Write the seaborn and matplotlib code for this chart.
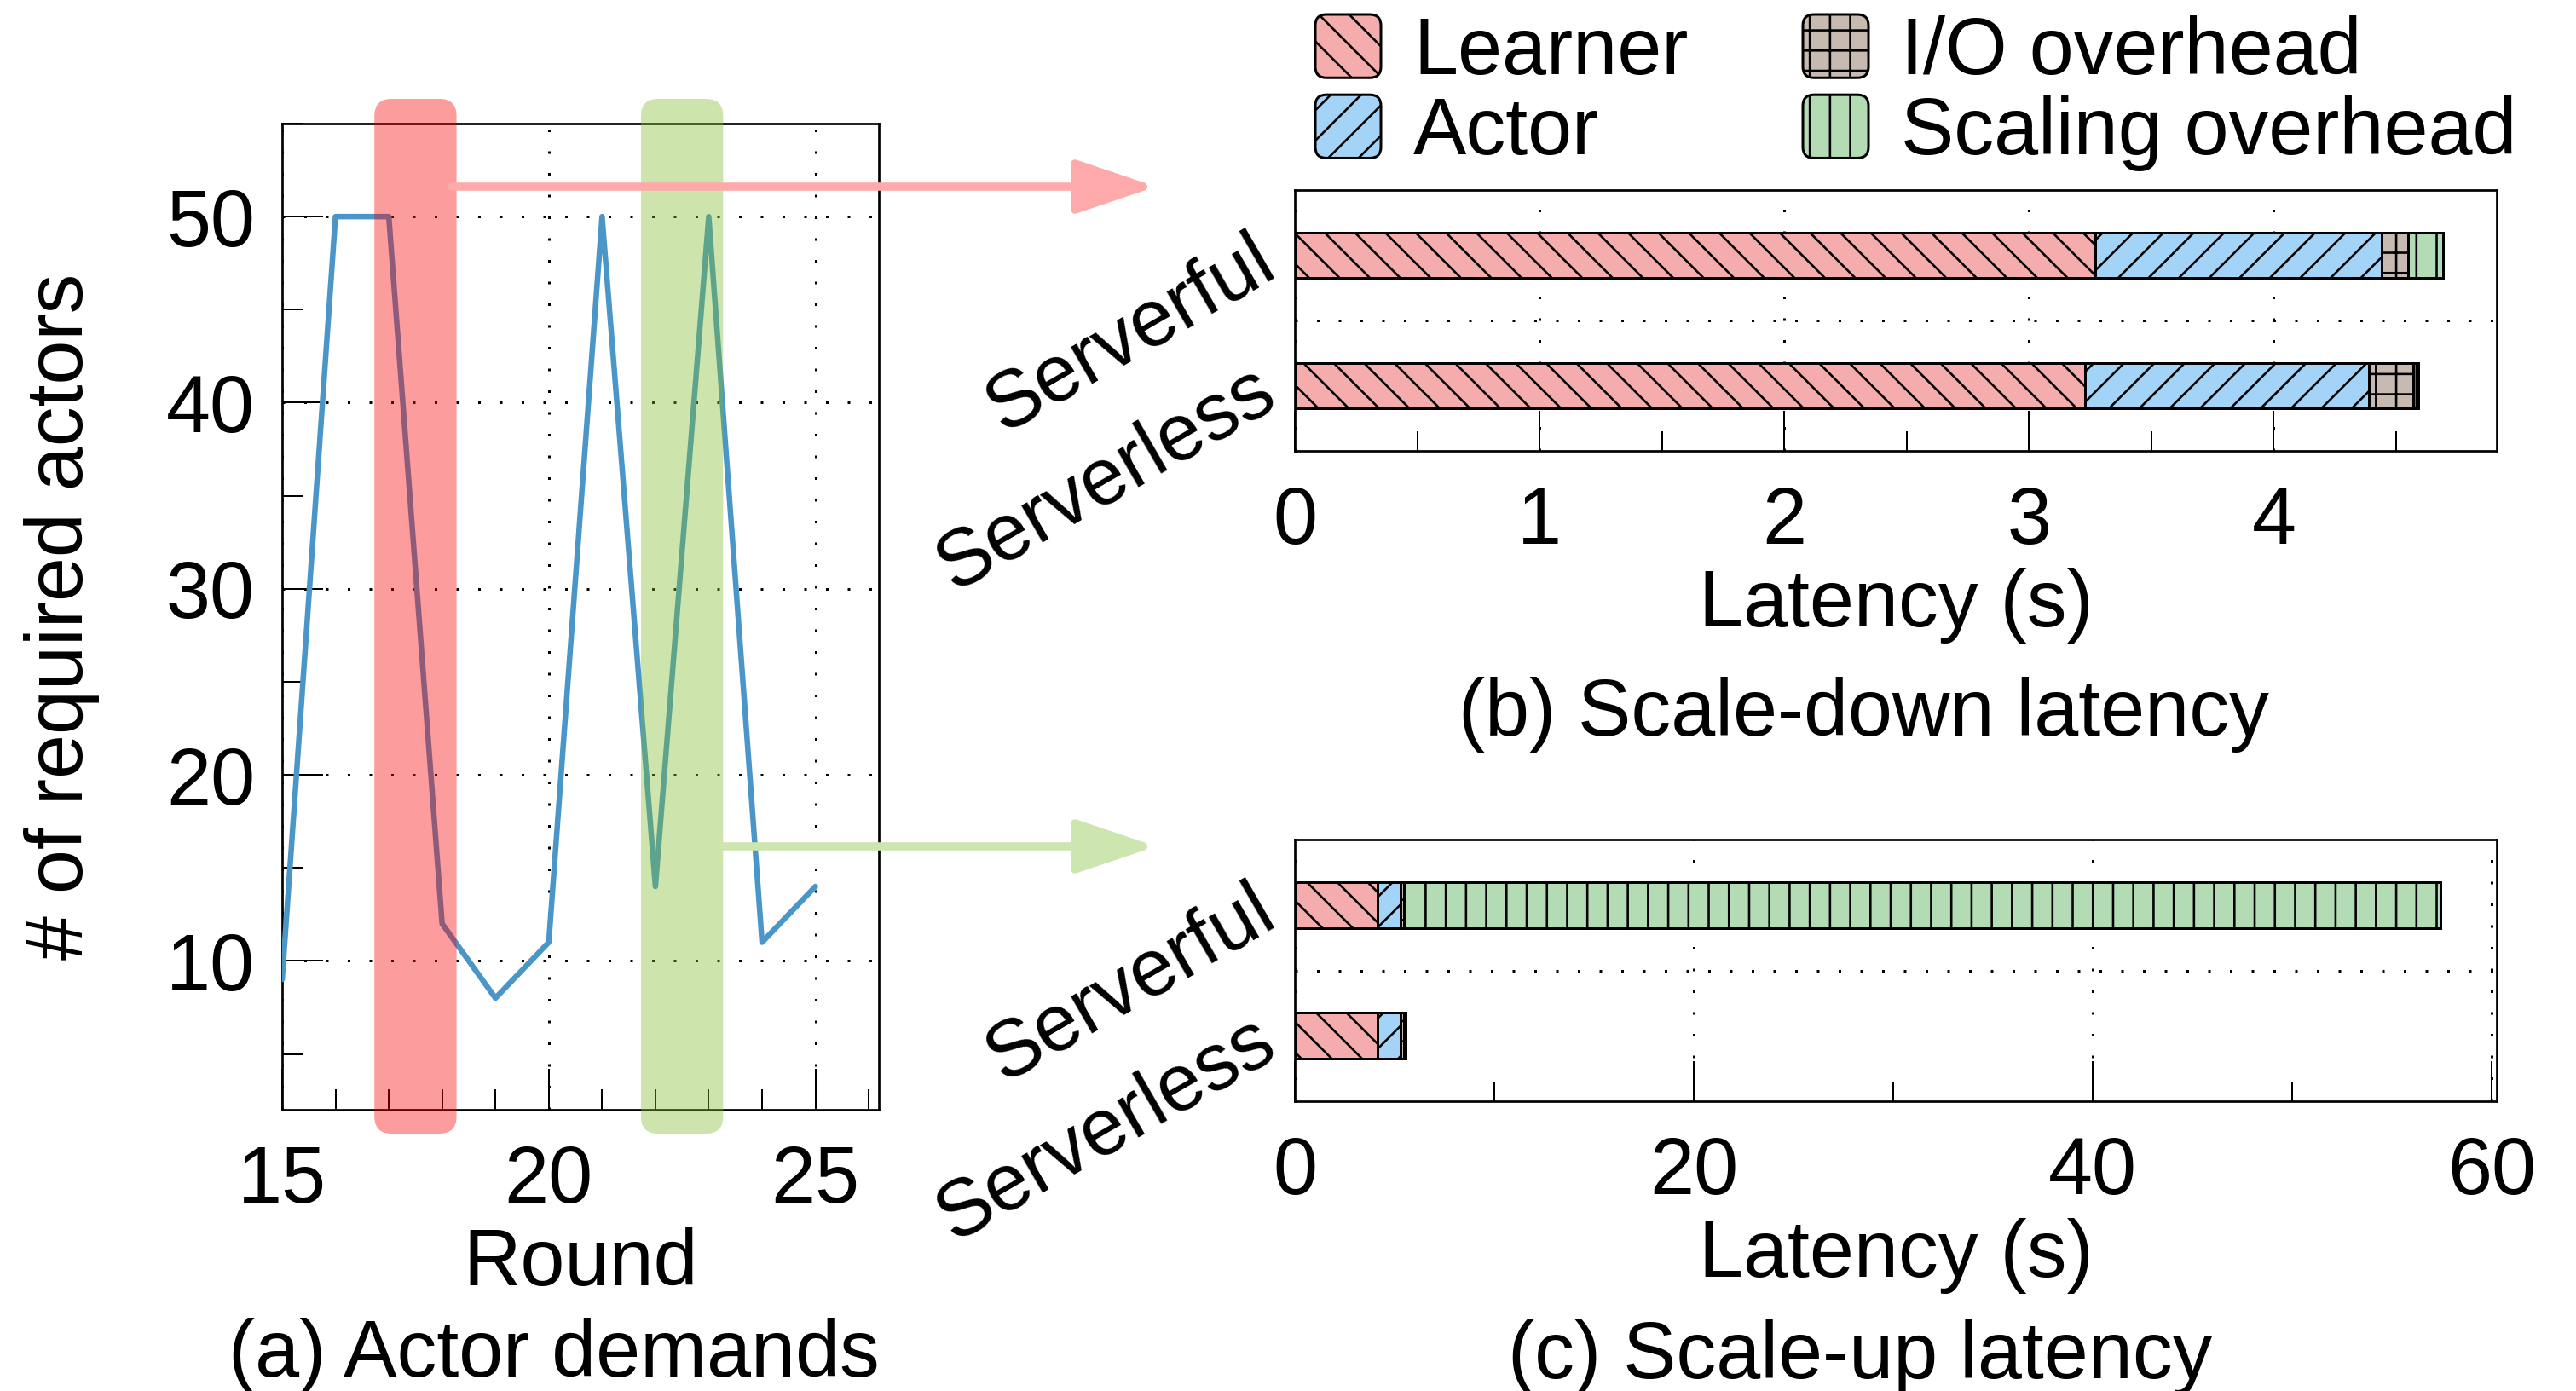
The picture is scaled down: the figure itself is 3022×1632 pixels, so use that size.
import numpy as np
import pandas as pd
import matplotlib
matplotlib.use("Agg")
import matplotlib.pyplot as plt
import seaborn as sns
from matplotlib.patches import FancyBboxPatch, FancyArrowPatch, Patch, ArrowStyle
from matplotlib.legend_handler import HandlerPatch
from matplotlib.ticker import MultipleLocator, FixedLocator

# ---------------- data ----------------
rounds = [15, 16, 17, 18, 19, 20, 21, 22, 23, 24, 25]
required_actors = [9, 50, 50, 12, 8, 11, 50, 14, 50, 11, 14]

systems = ["Serverful", "Serverless"]
components = ["Learner", "Actor", "I/O overhead", "Scaling overhead"]

# scale-down latency (s)
down_learner = [3.27, 3.23]
down_actor = [1.17, 1.16]
down_io = [0.11, 0.18]
down_scaling = [0.14, 0.02]

# scale-up latency (s)
up_learner = [4.15, 4.15]
up_actor = [1.17, 1.17]
up_io = [0.13, 0.17]
up_scaling = [51.99, 0.07]

# highlighted round windows (scale-down, scale-up)
scale_down_rounds = (17, 18)
scale_up_rounds = (22, 23)

# ---------------- style ----------------
W, H, DPI = 3022, 1632, 427


def P(px):
    """pixels -> points"""
    return px * 72.0 / DPI


def box(l, t, r, b):
    return [l / W, 1 - b / H, (r - l) / W, (b - t) / H]


sns.set_theme(style="white")
plt.rcParams["font.family"] = ["Liberation Sans", "DejaVu Sans"]
plt.rcParams["hatch.linewidth"] = P(2.6)
plt.rcParams["hatch.color"] = "black"
FS = P(93.5)

COLORS = ["#F4ACAC", "#A3D4F8", "#C9BAB1", "#B4DCB4"]
HATCHES = ["\\\\\\\\", "////", "+++", "|||"]
LINE_BLUE = "#4A96C8"
DOT = (0, (1, 7.5))

fig = plt.figure(figsize=(W / DPI, H / DPI), dpi=DPI)
fig.patch.set_facecolor("white")


def style_axes(ax):
    for s in ax.spines.values():
        s.set_visible(True)
        s.set_color("black")
        s.set_linewidth(P(2.7))
    ax.set_facecolor("white")


# ---------------- (a) actor demands ----------------
ax_a = fig.add_axes(box(331, 145, 1031, 1302))
sns.lineplot(x=rounds, y=required_actors, ax=ax_a, color=LINE_BLUE,
             linewidth=P(6.5), zorder=3)
ax_a.set_xlim(15, 26.19)
ax_a.xaxis.set_major_locator(MultipleLocator(5))
ax_a.xaxis.set_minor_locator(MultipleLocator(1))
ax_a.set_yticks([10, 20, 30, 40, 50])
ax_a.yaxis.set_minor_locator(MultipleLocator(5))
ax_a.set_ylim(2, 55)
style_axes(ax_a)
ax_a.tick_params(which="both", direction="in", bottom=True, left=True,
                 top=False, right=False, width=P(2), color="black",
                 labelsize=FS, labelcolor="black")
ax_a.tick_params(which="major", length=P(48))
ax_a.tick_params(which="minor", length=P(24))
ax_a.tick_params(axis="x", pad=P(40))
ax_a.tick_params(axis="y", pad=P(32))
ax_a.grid(True, which="major", linestyle=DOT, linewidth=P(3), color="black")
ax_a.set_xlabel("Round", fontsize=FS, color="black", labelpad=P(8))
ax_a.set_ylabel("# of required actors", fontsize=FS, color="black",
                labelpad=P(78))

# window highlights with rounded corners
px_x = 700 / (26.19 - 15)
px_y = 1157 / (55 - 2)
rad = 20 / px_x
pad_r = 0.27
y_lo, y_hi = 2 - 28 / px_y, 55 + 29 / px_y
for (r0, r1), col in [(scale_down_rounds, "#FA0000"), (scale_up_rounds, "#7FBB2E")]:
    patch = FancyBboxPatch((r0 - pad_r, y_lo), (r1 - r0) + 2 * pad_r, y_hi - y_lo,
                           boxstyle=f"round,pad=0,rounding_size={rad}",
                           mutation_aspect=(20 / px_y) / rad,
                           transform=ax_a.transData, clip_on=False,
                           facecolor=col, alpha=0.39, edgecolor="none",
                           zorder=10)
    ax_a.add_patch(patch)

# arrows from windows to the latency breakdowns
for x0, y0, col in [(530, 219, "#FFAAAA"), (848, 993, "#CDE5AE")]:
    arr = FancyArrowPatch((x0 / W, 1 - y0 / H), (1356 / W, 1 - y0 / H),
                          transform=fig.transFigure,
                          arrowstyle=ArrowStyle("-|>", head_length=P(80),
                                                head_width=P(27)),
                          mutation_scale=1, color=col, linewidth=P(9.6),
                          capstyle="round", shrinkA=0, shrinkB=0, zorder=20)
    fig.add_artist(arr)


# ---------------- (b), (c) stacked latency bars ----------------
def stacked(ax, parts, xmax, major, minor):
    cum = np.cumsum(np.array(parts, dtype=float), axis=0)
    for i in reversed(range(len(components))):
        frame = pd.DataFrame({"system": systems, "end": cum[i]})
        sns.barplot(data=frame, x="end", y="system", orient="h",
                    color=COLORS[i], hatch=HATCHES[i], edgecolor="black",
                    linewidth=P(3), width=0.35, saturation=1, ax=ax,
                    zorder=2)
    ax.set_xlim(0, xmax)
    ax.set_ylim(1.5, -0.5)
    ax.xaxis.set_major_locator(MultipleLocator(major))
    ax.xaxis.set_minor_locator(MultipleLocator(minor))
    ax.set_yticks([0, 1])
    ax.set_yticklabels(systems, rotation=30, ha="right", va="center",
                       rotation_mode="anchor")
    ax.yaxis.set_minor_locator(FixedLocator([0.5]))
    style_axes(ax)
    ax.tick_params(axis="x", which="both", direction="in", bottom=True,
                   top=False, width=P(2), color="black", labelsize=FS,
                   labelcolor="black", pad=P(40))
    ax.tick_params(axis="x", which="major", length=P(47))
    ax.tick_params(axis="x", which="minor", length=P(23))
    ax.tick_params(axis="y", which="both", length=0, left=False,
                   labelsize=FS, labelcolor="black", pad=P(30))
    ax.set_axisbelow(True)
    ax.grid(True, axis="x", which="major", linestyle=DOT,
            linewidth=P(3), color="black")
    ax.grid(True, axis="y", which="minor", linestyle=DOT,
            linewidth=P(3), color="black")
    ax.grid(False, axis="y", which="major")
    ax.set_ylabel("")
    ax.set_xlabel("Latency (s)", fontsize=FS, color="black", labelpad=P(8))


ax_b = fig.add_axes(box(1519, 223, 2929, 529))
stacked(ax_b, [down_learner, down_actor, down_io, down_scaling],
        4.911, 1, 0.5)

ax_c = fig.add_axes(box(1519, 985, 2929, 1292))
stacked(ax_c, [up_learner, up_actor, up_io, up_scaling],
        60.26, 20, 10)

# ---------------- captions ----------------
fig.text(650 / W, 1 - 1615 / H, "(a) Actor demands", fontsize=FS,
         ha="center", va="baseline", color="black")
fig.text(2186 / W, 1 - 863 / H, "(b) Scale-down latency", fontsize=FS,
         ha="center", va="baseline", color="black")
fig.text(2182 / W, 1 - 1617 / H, "(c) Scale-up latency", fontsize=FS,
         ha="center", va="baseline", color="black")


# ---------------- legend ----------------
class RoundedHandle(HandlerPatch):
    def create_artists(self, legend, orig_handle, xdescent, ydescent,
                       width, height, fontsize, trans):
        p = FancyBboxPatch((-xdescent, -ydescent), width, height,
                           boxstyle=f"round,pad=0,rounding_size={P(13)}",
                           facecolor=orig_handle.get_facecolor(),
                           hatch=orig_handle.get_hatch(),
                           edgecolor="black", linewidth=P(3),
                           transform=trans)
        return [p]


handles = [Patch(facecolor=c, hatch=h, edgecolor="black")
           for c, h in zip(COLORS, HATCHES)]
fig.legend(handles, components, loc="upper left",
           bbox_to_anchor=(1543 / W, 1 - 17 / H), ncol=2, frameon=False,
           fontsize=FS, borderpad=0, borderaxespad=0,
           handlelength=77 / 93.5, handleheight=79 / 93.5,
           handletextpad=38 / 93.5, columnspacing=1.44,
           labelspacing=0.05, labelcolor="black",
           handler_map={Patch: RoundedHandle()})

fig.savefig("out.png", dpi=DPI, facecolor="white")
